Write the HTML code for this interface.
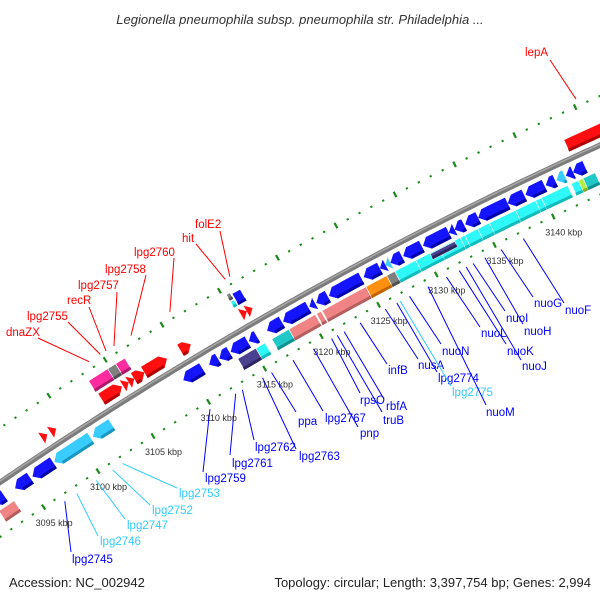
<!DOCTYPE html>
<html><head><meta charset="utf-8"><title>Legionella pneumophila genome map</title>
<style>
html,body{margin:0;padding:0;background:#fff;}
svg{display:block;font-family:"Liberation Sans",sans-serif;}
</style></head>
<body>
<svg id="map" width="600" height="600" viewBox="0 0 600 600" xmlns="http://www.w3.org/2000/svg">
<rect x="0" y="0" width="600" height="600" fill="#fff"/>
<text x="300" y="24" text-anchor="middle" font-size="13" font-style="italic" fill="#333">Legionella pneumophila subsp. pneumophila str. Philadelphia ...</text>
<g id="ticks"></g>
<g id="backbone"></g>
<g id="genes"></g>
<g id="labels"></g>
<text x="9" y="587" font-size="13" fill="#222">Accession: NC_002942</text>
<text x="591" y="587" font-size="13" fill="#222" text-anchor="end">Topology: circular; Length: 3,397,754 bp; Genes: 2,994</text>
</svg>
<script>
// ---- data ----
var geneStart = [3092.0,3094.0,3095.6,3097.6,3101.1, 3109.2,3111.5,3112.4,3113.4,3115.0, 3116.6,3118.0,3120.3,3120.9,3122.0,3125.0,3126.4,3126.9,3127.3,3128.4,3130.1,3132.3,3132.8,3133.7,3134.8,3137.3,3138.8,3140.5,3141.4,3142.2,3142.8,
  3092.0,3113.6,3115.2,3116.6,3118.1,3120.5,3121.0,3124.8,3126.6,3127.3,3129.1,3131.1,3132.9,3133.3,3134.4,3135.4,3137.6,3139.3,3139.8,3130.3,3142.3,3142.9,3143.3,
  3097.8,3098.6,3103.2,3105.1,3105.6,3106.1,3107.0,3110.2,3115.5,3116.0,3143.2,
  3103.1,3104.8,3105.5,3115.3,3115.3,3115.7];
var geneEnd = [3093.0,3095.4,3097.5,3100.9,3102.8, 3110.9,3112.3,3113.3,3114.9,3115.7, 3117.9,3120.2,3120.8,3121.9,3124.8,3126.4,3126.9,3127.3,3128.3,3130.0,3132.3,3132.8,3133.6,3134.8,3137.3,3138.7,3140.4,3141.3,3142.1,3142.8,3143.8,
  3093.4,3115.2,3116.0,3118.1,3120.4,3120.9,3124.8,3126.6,3127.3,3129.1,3131.1,3132.9,3133.3,3134.4,3135.4,3137.6,3139.3,3139.8,3142.0,3132.4,3142.9,3143.3,3144.3,
  3098.3,3099.1,3105.0,3105.6,3106.1,3107.0,3109.0,3111.1,3116.0,3116.5,3147.5,
  3104.8,3105.5,3106.3,3115.6,3115.6,3116.4];
var geneRow = ['r1','r1','r1','r1','r1','r1','r1','r1','r1','r1','r1','r1','r1','r1','r1','r1','r1','r1','r1','r1','r1','r1','r1','r1','r1','r1','r1','r1','r1','r1','r1',
  'r2','r2','r2','r2','r2','r2','r2','r2','r2','r2','r2','r2','r2','r2','r2','r2','r2','r2','r2','r2p','r2','r2','r2',
  'f1','f1','f1','f1','f1','f1','f1','f1','f1','f1','f1',
  'f2','f2','f2','f2o','f2i','f2'];
var geneType = ['blue','blue','blue','lblue','lblue','blue','blue','blue','blue','blue','blue','blue','blue','blue','blue','blue','blue','lblue','blue','blue','blue','blue','blue','blue','blue','blue','blue','blue','lblue','blue','blue',
  'salmon','purple','cyan','teal','salmon','salmon','salmon','orange','gray','cyan','cyan','cyan','cyan','cyan','cyan','cyan','cyan','cyan','cyan','purple','cyan','ygreen','teal',
  'red','red','red','red','red','red','red','red','red','red','red',
  'pink','gray','pink','gray','cyan','blue'];
var geneShape = ['arrow','arrow','arrow','arrow','arrow','arrow','arrow','arrow','arrow','arrow','arrow','arrow','arrow','arrow','arrow','arrow','arrow','arrow','arrow','arrow','arrow','arrow','arrow','arrow','arrow','arrow','arrow','arrow','arrow','arrow','arrow',
  'box','box','box','box','box','box','box','box','box','box','box','box','box','box','box','box','box','box','box','box','box','box','box',
  'arrow','arrow','arrow','arrow','arrow','arrow','arrow','arrow','arrow','arrow','box',
  'box','box','box','box','box','box'];
var tickMajor = [3095,3100,3105,3110,3115,3120,3125,3130,3135,3140];
var tickLabels = ['3095 kbp','3100 kbp','3105 kbp','3110 kbp','3115 kbp','3120 kbp','3125 kbp','3130 kbp','3135 kbp','3140 kbp'];
var labelNames = ['dnaZX','lpg2755','recR','lpg2757','lpg2758','lpg2760','hit','folE2','lepA',
  'lpg2745','lpg2746','lpg2747','lpg2752','lpg2753','lpg2759','lpg2761','lpg2762','lpg2763','ppa','lpg2767','pnp','rpsO','truB','rbfA','infB','nusA','lpg2774','lpg2775','nuoN','nuoM','nuoL','nuoK','nuoJ','nuoI','nuoH','nuoG','nuoF'];
var labelKbp = [3103.9,3104.9,3105.4,3106.1,3107.6,3111.0,3115.8,3116.2,3145.3,
  3096.6,3097.7,3099.5,3101.0,3101.9,3109.8,3112.1,3112.7,3114.5,3115.3,3117.2,3119.0,3120.6,3121.1,3121.7,3123.1,3125.3,3126.3,3126.6,3127.4,3129.0,3130.6,3131.7,3132.3,3132.9,3133.9,3135.3,3137.2];
// ---- layout (label placement, not data) ----
var labelLayout = [
 [6,336,38,338,'red'],[27,320,68,322,'red'],[67,304,89,307,'red'],[78,289,117,292,'red'],[105,273,146,275,'red'],[134,256,174,258,'red'],[182,242,196,244,'red'],[195,228,220,231,'red'],[525,56,550,60,'red'],
 [72,563,71,552,'#0000ff'],[100,545,98,536,'#33ccff'],[127,529,125,519,'#33ccff'],[152,514,150,505,'#33ccff'],[179,497,177,488,'#33ccff'],[205,482,203,472,'#0000ff'],[232,467,230,455,'#0000ff'],[255,451,254,440,'#0000ff'],[299,460,296,449,'#0000ff'],[298,425,296,412,'#0000ff'],[325,422,323,411,'#0000ff'],[360,437,358,427,'#0000ff'],
 [360,404,360,393,'#0000ff'],[383,424,382,412,'#0000ff'],[386,410,384,399,'#0000ff'],[388,374,387,364,'#0000ff'],[418,369,418,359,'#0000ff'],[438,382,437,372,'#0000ff'],[452,396,451,386,'#33ccff'],[442,355,441,344,'#0000ff'],[486,416,486,405,'#0000ff'],[481,337,480,327,'#0000ff'],[507,355,506,344,'#0000ff'],[522,370,521,360,'#0000ff'],[506,322,505,311,'#0000ff'],[524,335,523,324,'#0000ff'],[534,307,533,297,'#0000ff'],[565,314,564,303,'#0000ff']];

var NS='http://www.w3.org/2000/svg';
var CX=2229, CY=3747, R0=3953, PXK=13.2;
var THREF=Math.atan2(298-CY,300-CX);
function P(k,r){var th=THREF+(k-3120)*PXK/R0;var R=R0-r;return [CX+R*Math.cos(th),CY+R*Math.sin(th)];}
function fmt(p){return p[0].toFixed(1)+','+p[1].toFixed(1);}
function arc(k1,k2,r){var pts=[];var n=Math.max(2,Math.ceil(Math.abs(k2-k1)*2));for(var i=0;i<=n;i++){pts.push(fmt(P(k1+(k2-k1)*i/n,r)));}return pts;}
function mk(tag,parent){var e=document.createElementNS(NS,tag);parent.appendChild(e);return e;}
var colors={blue:['#1414ff','#0000a8'],lblue:['#38ccff','#1a96c0'],red:['#ff0f0f','#b00000'],pink:['#ff2ca0','#b0186e'],gray:['#808080','#505050'],
 salmon:['#f08484','#b65e5e'],orange:['#ff9010','#c06400'],purple:['#4a4290','#2c2660'],cyan:['#2ef8f8','#12bcbc'],teal:['#22c8c8','#109090'],ygreen:['#b0f040','#80b020']};
var rows={f1:[-20,-7],f2:[-36,-23],f2o:[-38,-31],f2i:[-30,-23],r1:[7,20],r2:[23,36],r2p:[24,30]};

// ticks
var tg=document.getElementById('ticks');
[-45,45].forEach(function(rr){
  for(var k=3086;k<=3152;k++){
    var major=(k%5===0);
    var a=P(k,rr-(major?3:1)),b=P(k,rr+(major?3:1));
    var l=mk('line',tg);
    
    
    l.setAttribute('x1',a[0]);l.setAttribute('y1',a[1]);l.setAttribute('x2',b[0]);l.setAttribute('y2',b[1]);
    l.setAttribute('stroke','#1a8a1a');l.setAttribute('stroke-width',2.2);
  }
});
for(var i=0;i<tickMajor.length;i++){
  var tp=P(tickMajor[i],45);
  var tt=mk('text',tg);
  
  
  tt.setAttribute('x',tp[0]-8);tt.setAttribute('y',tp[1]+19);tt.setAttribute('font-size','9');tt.setAttribute('fill','#333');
  tt.textContent=tickLabels[i];
}
// backbone
var bg=document.getElementById('backbone');
var bb=mk('polyline',bg);


bb.setAttribute('points',arc(3080,3155,0).join(' '));bb.setAttribute('fill','none');bb.setAttribute('stroke','#7c7c7c');bb.setAttribute('stroke-width','5.5');
var bb2=mk('polyline',bg);


bb2.setAttribute('points',arc(3080,3155,-1).join(' '));bb2.setAttribute('fill','none');bb2.setAttribute('stroke','#a8a8a8');bb2.setAttribute('stroke-width','1.5');

// genes
var gg=document.getElementById('genes');
for(var i=0;i<geneStart.length;i++){
  var s=geneStart[i],e=geneEnd[i],rw=rows[geneRow[i]],r1=rw[0],r2=rw[1],col=colors[geneType[i]];
  var fwd=geneRow[i].charAt(0)==='f';
  var pts,dark;
  if(geneShape[i]==='arrow'){
    var h=Math.min(0.5,(e-s));
    var rm=(r1+r2)/2;
    var kb;
    if(fwd){kb=e-h;pts=arc(s,kb,r1).concat([fmt(P(e,rm))]).concat(arc(kb,s,r2));dark=arc(s,kb,r2-3).concat(arc(kb,s,r2));}
    else{kb=s+h;pts=[fmt(P(s,rm))].concat(arc(kb,e,r1)).concat(arc(e,kb,r2));dark=arc(kb,e,r2-3).concat(arc(e,kb,r2));}
    if(e-s<=h+0.01){dark=null;}
  } else {
    pts=arc(s,e,r1).concat(arc(e,s,r2));dark=arc(s,e,r2-3).concat(arc(e,s,r2));
  }
  var gp=mk('polygon',gg);
  
  
  gp.setAttribute('points',pts.join(' '));gp.setAttribute('fill',col[0]);
  if(geneShape[i]==='box'){gp.setAttribute('stroke','#ffffff');gp.setAttribute('stroke-width','0.6');}
  if(dark){var dp=mk('polygon',gg);
    
    
    dp.setAttribute('points',dark.join(' '));dp.setAttribute('fill',col[1]);}
}
// labels
var lg=document.getElementById('labels');
for(var i=0;i<labelNames.length;i++){
  var LL=labelLayout[i];
  var isTop=(LL[4]==='red');
  var sp=P(labelKbp[i],isTop?-52:52);
  var ln=mk('line',lg);
  
  
  ln.setAttribute('x1',sp[0]);ln.setAttribute('y1',sp[1]);ln.setAttribute('x2',LL[2]);ln.setAttribute('y2',LL[3]);
  ln.setAttribute('stroke',LL[4]);ln.setAttribute('stroke-width','1');
  var lt=mk('text',lg);
  
  
  lt.setAttribute('x',LL[0]);lt.setAttribute('y',LL[1]);lt.setAttribute('font-size','11.5');lt.setAttribute('fill',LL[4]);
  lt.textContent=labelNames[i];
}
</script>
</body></html>
